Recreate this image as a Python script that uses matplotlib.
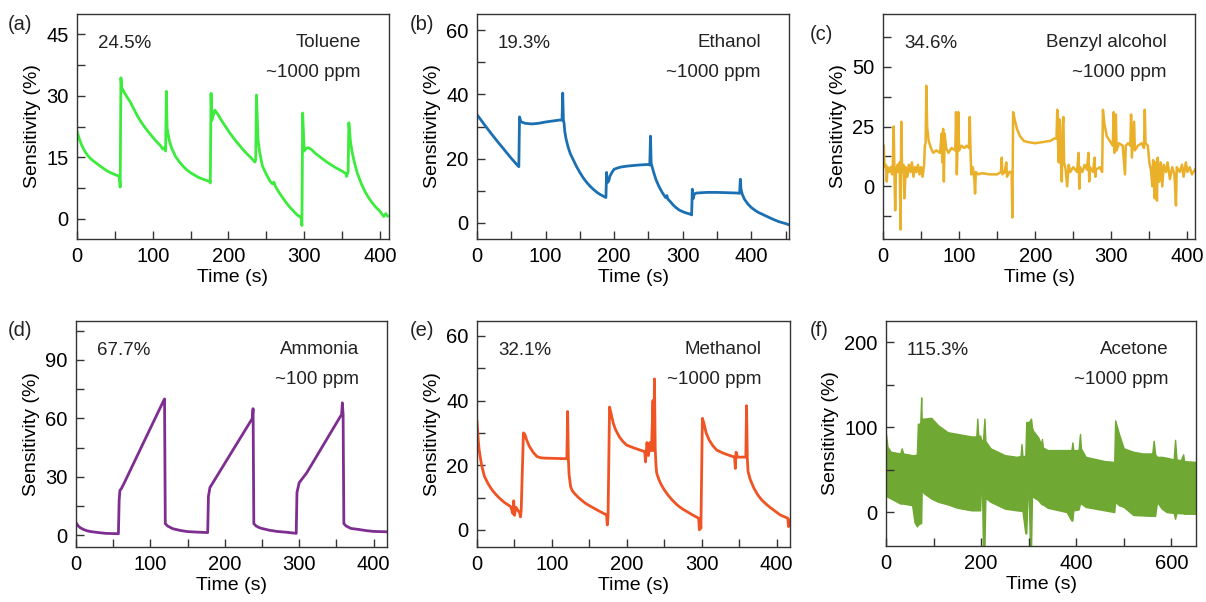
import matplotlib
matplotlib.use("Agg")
import matplotlib.pyplot as plt
from matplotlib.ticker import MultipleLocator

plt.rcParams['font.family'] = ['Liberation Sans', 'DejaVu Sans']

# ---------------- data ----------------
# (a) Toluene
a_t = [0, 3, 6, 10, 15, 20, 25, 30, 40, 48, 56, 57, 58, 59, 62, 65, 70, 75, 80, 85, 90, 95, 100, 105, 110, 113, 115, 117,
       118, 119, 120, 122, 125, 130, 135, 140, 145, 150, 160, 168, 175, 176, 177, 178, 182, 186, 190, 195, 200, 205, 210,
       215, 220, 225, 230, 235, 236, 237, 239, 241, 243, 245, 250, 255, 258, 260, 262, 265, 270, 275, 280, 285, 290, 296,
       297, 298, 300, 303, 306, 310, 315, 320, 325, 330, 335, 340, 345, 350, 355, 356, 358, 359, 361, 363, 366, 370, 375,
       380, 385, 390, 395, 400, 405, 408, 410]
a_y = [21.4, 19.5, 18.0, 16.5, 15.2, 14.3, 13.6, 12.9, 11.6, 10.9, 10.3, 7.7, 34.4, 32.0, 31.0, 30.0, 28.6, 26.8, 25.0, 23.5, 22.2, 21.0, 19.9, 18.8, 17.9, 17.0, 17.3, 16.5,
       31.1, 22.0, 21.0, 19.0, 17.2, 15.2, 13.9, 12.8, 11.9, 11.2, 10.1, 9.5, 9.1, 8.7, 30.6, 24.0, 26.5, 25.5, 24.2, 22.8, 21.4, 20.1, 18.9,
       17.8, 16.7, 15.7, 14.8, 13.8, 14.5, 30.2, 19.3, 16.5, 14.5, 12.8, 10.8, 9.1, 8.5, 8.9, 7.9, 6.9, 5.5, 4.2, 3.0, 2.0, 1.0, 0.2,
       -1.7, 25.8, 16.5, 17.2, 17.3, 16.8, 15.9, 15.2, 14.5, 13.8, 13.2, 12.6, 12.1, 11.6, 11.0, 10.3, 11.5, 23.4, 19.0, 16.5, 14.0, 11.2, 8.7,
       6.7, 5.1, 3.8, 2.7, 1.8, 0.5, 1.2, 0.6]

# (b) Ethanol
b_t = [0, 10, 20, 30, 40, 50, 60, 61, 62, 64, 70, 80, 90, 100, 110, 120, 124, 125, 126, 127, 128, 130, 133, 136, 140, 145,
       150, 155, 160, 165, 170, 175, 180, 188, 189, 190, 192, 194, 197, 200, 205, 210, 220, 235, 250, 252, 253, 254, 256,
       258, 261, 265, 270, 275, 277, 278, 282, 286, 290, 295, 300, 305, 310, 313, 314, 315, 317, 320, 335, 350, 365, 380,
       383, 384, 385, 387, 390, 395, 400, 405, 410, 420, 430, 440, 450, 455]
b_y = [33.7, 30.8, 28.0, 25.3, 22.7, 20.1, 17.7, 17.5, 33.0, 31.5, 31.0, 30.8, 31.0, 31.4, 31.7, 32.0, 32.0, 40.4, 32.0, 31.0, 28.5, 26.0, 23.5, 21.6, 19.8, 17.6,
       15.7, 14.0, 12.6, 11.4, 10.4, 9.5, 8.8, 7.9, 15.7, 12.5, 13.0, 14.6, 15.8, 16.7, 17.1, 17.4, 17.7, 18.0, 18.2, 18.0, 27.0, 18.5, 17.0,
       15.5, 13.5, 11.5, 9.5, 7.9, 8.5, 7.5, 6.6, 5.6, 4.8, 4.0, 3.5, 3.1, 2.8, 2.5, 10.5, 7.5, 9.0, 9.3, 9.5, 9.5, 9.4, 9.3,
       9.2, 13.6, 10.5, 8.8, 7.4, 5.9, 4.8, 4.0, 3.3, 2.3, 1.3, 0.4, -0.2, -0.6]

# (c) Benzyl alcohol
c_t = [0, 1, 2, 4, 5, 6, 8, 10, 12, 13, 14, 15, 16, 17, 19, 20, 22, 23, 24, 25, 27, 28, 30, 32, 34, 36, 38, 40, 42, 44, 46, 48,
       50, 52, 54, 55, 56, 57, 58, 60, 63, 66, 70, 75, 77, 78, 79, 80, 81, 83, 86, 90, 95, 96, 97, 99, 100, 103, 107, 110, 113,
       114, 115, 116, 118, 120, 121, 122, 125, 130, 140, 150, 155, 156, 157, 160, 162, 163, 166, 169, 170, 171, 173, 176, 180,
       185, 190, 200, 210, 220, 225, 228, 229, 230, 231, 232, 233, 234, 235, 236, 237, 238, 240, 242, 244, 246, 250, 255, 257,
       258, 259, 262, 265, 268, 270, 271, 272, 276, 278, 279, 280, 285, 288, 289, 291, 294, 298, 302, 303, 304, 306, 307, 310,
       315, 318, 319, 322, 325, 326, 327, 330, 331, 335, 340, 343, 344, 345, 348, 350, 352, 354, 355, 357, 358, 360, 361, 363,
       365, 367, 369, 372, 374, 377, 380, 383, 385, 386, 390, 393, 395, 398, 400, 403, 406, 410]
c_y = [15, 17, 8, 9, 2, 8, 6, 8, 5, 10, 25, 8, -10, 6, 9, 6, 10, -18, 27, 6, 9, -5, 8, 4, 9, 6, 10, 4, 8, 6, 9, 5,
       8, 4, 9, 17, 18, 42, 25, 19, 16, 14, 15, 14, 22, 10, 24, 2, 22, 16, 14, 16, 15, 31, 5, 31, 15, 17, 16, 17, 16,
       29, 15, 5, 8, 3, -3, 6, 5, 5.5, 5, 5, 6, 12, 5, 6, 10, 4, 6, 6, -13, 31, 28, 24, 21,
       19, 18.5, 18, 18.5, 19, 20, 20, 32, 18, 10, 28, 15, 8, 2, 25, 29, 10, 7, 0, 9, 6, 8, 6, 14,
       -1, 8, 6, 9, 7, 14, 2, 8, 6, 12, 4, 7, 8, 6, 32, 26, 21, 19, 17, 31, 14, 30, 15, 18,
       17, 5, 17, 18, 17, 30, 12, 27, 15, 17, 18, 16, 32, 18, 17, 10, 7, 0, 11, -5, 10, -6, 12, 2,
       10, 0, 9, 6, 10, 3, 8, 5, -8, 8, 6, 9, 4, 10, 6, 8, 5, 7]

# (d) Ammonia
d_t = [0, 3, 6, 10, 15, 20, 30, 40, 57, 58, 59, 61, 65, 90, 118, 119, 120, 123, 127, 130, 140, 150, 165, 177, 178, 180,
       237, 238, 239, 242, 246, 250, 260, 270, 285, 296, 297, 300, 310, 355, 357, 358, 359, 360, 363, 367, 370, 380, 390,
       400, 418]
d_y = [6.5, 4.8, 3.8, 3.0, 2.3, 1.9, 1.4, 1.0, 0.8, 18.0, 23.0, 24.0, 27.0, 47.0, 69.3, 70.0, 6.0, 4.8, 4.0, 3.4, 2.5, 1.9, 1.6, 1.4, 20.0, 24.5,
       60.0, 65.0, 6.0, 4.8, 4.0, 3.5, 2.6, 2.0, 1.5, 1.0, 22.0, 27.0, 32.0, 60.8, 62.0, 68.0, 62.0, 6.0, 4.8, 4.0, 3.5, 3.0, 2.4,
       2.0, 1.8]

# (e) Methanol
e_t = [0, 1, 2, 3, 5, 7, 10, 15, 20, 25, 30, 37, 45, 48, 49, 50, 52, 57, 58, 59, 62, 64, 66, 70, 75, 80, 85, 90, 120, 121,
       122, 123, 125, 127, 130, 135, 140, 145, 150, 160, 173, 174, 175, 177, 179, 182, 185, 190, 195, 200, 210, 224, 225,
       227, 229, 231, 233, 235, 236, 237, 238, 239, 240, 243, 246, 250, 255, 260, 265, 270, 275, 280, 288, 296, 297, 298,
       299, 301, 303, 306, 310, 315, 320, 328, 335, 344, 345, 346, 348, 359, 360, 361, 362, 365, 370, 375, 380, 385, 390,
       398, 405, 415, 416, 418]
e_y = [33.5, 30.0, 26.8, 24.5, 21.6, 19.2, 16.5, 14.2, 12.4, 11.0, 9.8, 8.4, 7.2, 5.0, 9.0, 4.5, 7.0, 5.2, 4.0, 6.0, 30.0, 29.5, 28.0, 25.8, 24.0, 22.7, 22.3, 22.2, 22.0, 36.6,
       22.0, 17.0, 13.4, 12.2, 11.3, 10.1, 9.1, 8.2, 7.5, 6.2, 4.6, 1.5, 4.0, 38.0, 36.0, 33.0, 31.0, 28.8, 27.3, 26.2, 25.3, 24.2, 21.0,
       27.0, 23.0, 27.0, 24.5, 40.0, 24.5, 46.7, 25.0, 20.0, 17.5, 15.5, 14.0, 12.4, 10.8, 9.4, 8.2, 7.2, 6.4, 5.7, 4.6, 3.6, 0.0, 3.0,
       0.5, 34.5, 33.0, 30.0, 27.8, 26.0, 24.7, 23.8, 23.2, 22.5, 19.0, 24.0, 22.5, 22.5, 38.4, 22.0, 18.0, 15.5, 12.8, 10.8, 9.3, 8.2, 7.2,
       5.8, 4.6, 3.6, 1.0, 3.0]

# (f) Acetone (rapidly oscillating signal: upper / lower envelopes)
f_t = [0, 3, 10, 30, 33, 36, 55, 60, 65, 67, 70, 72, 74, 75, 77, 80, 95, 110, 130, 150, 180, 190, 192, 194, 198, 200,
       202, 204, 207, 209, 211, 220, 250, 275, 283, 285, 287, 293, 295, 298, 300, 303, 305, 307, 309, 320, 326, 328, 330,
       340, 380, 390, 392, 394, 405, 408, 410, 420, 460, 480, 482, 490, 500, 520, 540, 560, 563, 566, 570, 580, 590, 605,
       608, 611, 620, 625, 627, 652]
f_hi = [92, 77, 71, 69, 75, 69, 67, 67, 68, 104, 104, 104, 135, 110, 110, 110, 111, 102, 94, 92, 89, 89, 110, 90, 90, 85,
        85, 84, 110, 84, 82, 75, 67, 65, 66, 80, 66, 66, 106, 106, 106, 108, 110, 100, 96, 88, 80, 86, 76,
        73, 73, 73, 82, 73, 73, 92, 75, 65, 60, 59, 108, 92, 75, 71, 69, 69, 84, 68, 65, 65, 64, 62,
        85, 62, 61, 68, 60, 59]
f_lo = [20, 18, 16, 10, 10, 10, 8, -12, -17, -15, -14, -13, -13, 26, 24, 22, 16, 12, 9, 5, 2, 2, 2, 2, 2, 34,
        25, -45, -45, 18, 16, 12, 4, 2, 1.5, 1.5, 1.5, -25, -25, 26, 24, -45, -45, 20, 18, 14, 10, 9, 9,
        5, 0, -10, -10, 2, 3, 10, 10, 6, 2, 0, 12, 8, 6, -3.5, -4, -4.5, -4.5, -4.5, 12, 4, 0, -1,
        -8, -1, -1.5, -1.5, -2, -2]

panels = [
    dict(lab='(a)', t=a_t, y=a_y, color='#3CEB3C', xlim=(0, 412), ylim=(-5, 50), xmaj=100, xmin=50, ymaj=15, ymin=7.5,
         pct='24.5%', gas='Toluene', conc='~1000 ppm'),
    dict(lab='(b)', t=b_t, y=b_y, color='#1B70B4', xlim=(0, 455), ylim=(-5, 65), xmaj=100, xmin=50, ymaj=20, ymin=10,
         pct='19.3%', gas='Ethanol', conc='~1000 ppm'),
    dict(lab='(c)', t=c_t, y=c_y, color='#EAB02A', xlim=(0, 410), ylim=(-22, 72), xmaj=100, xmin=50, ymaj=25, ymin=12.5,
         pct='34.6%', gas='Benzyl alcohol', conc='~1000 ppm'),
    dict(lab='(d)', t=d_t, y=d_y, color='#7E2E90', xlim=(0, 418), ylim=(-6, 110), xmaj=100, xmin=50, ymaj=30, ymin=15,
         pct='67.7%', gas='Ammonia', conc='~100 ppm'),
    dict(lab='(e)', t=e_t, y=e_y, color='#F05424', xlim=(0, 418), ylim=(-5.3, 64.6), xmaj=100, xmin=50, ymaj=20, ymin=10,
         pct='32.1%', gas='Methanol', conc='~1000 ppm'),
    dict(lab='(f)', t=f_t, y=None, color='#6FA832', xlim=(0, 652), ylim=(-40, 225), xmaj=200, xmin=100, ymaj=100, ymin=50,
         pct='115.3%', gas='Acetone', conc='~1000 ppm'),
]

W, H = 1206, 602
fig = plt.figure(figsize=(W / 100, H / 100), dpi=100)

# axes boxes in pixels: left, top, right, bottom
boxes = [(77, 14, 389, 239), (477, 14, 789, 239), (883, 14, 1195, 239),
         (76, 321, 387, 547), (477, 321, 790, 547), (886, 321, 1196, 546)]
label_pos = [(8, 24), (410, 24), (810, 34), (8, 330), (410, 330), (810, 330)]

for p, (l, t, r, b), (lx, ly) in zip(panels, boxes, label_pos):
    ax = fig.add_axes([l / W, 1 - b / H, (r - l) / W, (b - t) / H])
    if p['y'] is None:
        ax.fill_between(f_t, f_lo, f_hi, color=p['color'], linewidth=1.0, edgecolor=p['color'])
    else:
        lw = 1.8 if p['lab'] == '(c)' else 2.0
        ax.plot(p['t'], p['y'], color=p['color'], lw=lw, solid_joinstyle='round')
    ax.set_xlim(*p['xlim'])
    ax.set_ylim(*p['ylim'])
    ax.xaxis.set_major_locator(MultipleLocator(p['xmaj']))
    ax.xaxis.set_minor_locator(MultipleLocator(p['xmin']))
    ax.yaxis.set_major_locator(MultipleLocator(p['ymaj']))
    ax.yaxis.set_minor_locator(MultipleLocator(p['ymin']))
    ax.tick_params(which='both', direction='in', length=6, width=1, color='#333333',
                   labelsize=14.5, pad=6)
    for s in ax.spines.values():
        s.set_color('#333333')
        s.set_linewidth(1.0)
    ax.set_xlabel('Time (s)', fontsize=14, labelpad=2)
    ax.set_ylabel('Sensitivity (%)', fontsize=14, labelpad=4)
    ax.text(0.067, 0.87, p['pct'], transform=ax.transAxes, fontsize=13.5, ha='left', va='center', color='#222222')
    ax.text(0.91, 0.875, p['gas'], transform=ax.transAxes, fontsize=13.5, ha='right', va='center', color='#222222')
    ax.text(0.91, 0.74, p['conc'], transform=ax.transAxes, fontsize=13.5, ha='right', va='center', color='#222222')
    fig.text(lx / W, 1 - ly / H, p['lab'], fontsize=14.5, ha='left', va='center', color='#222222')

fig.savefig('out.png', dpi=100)
